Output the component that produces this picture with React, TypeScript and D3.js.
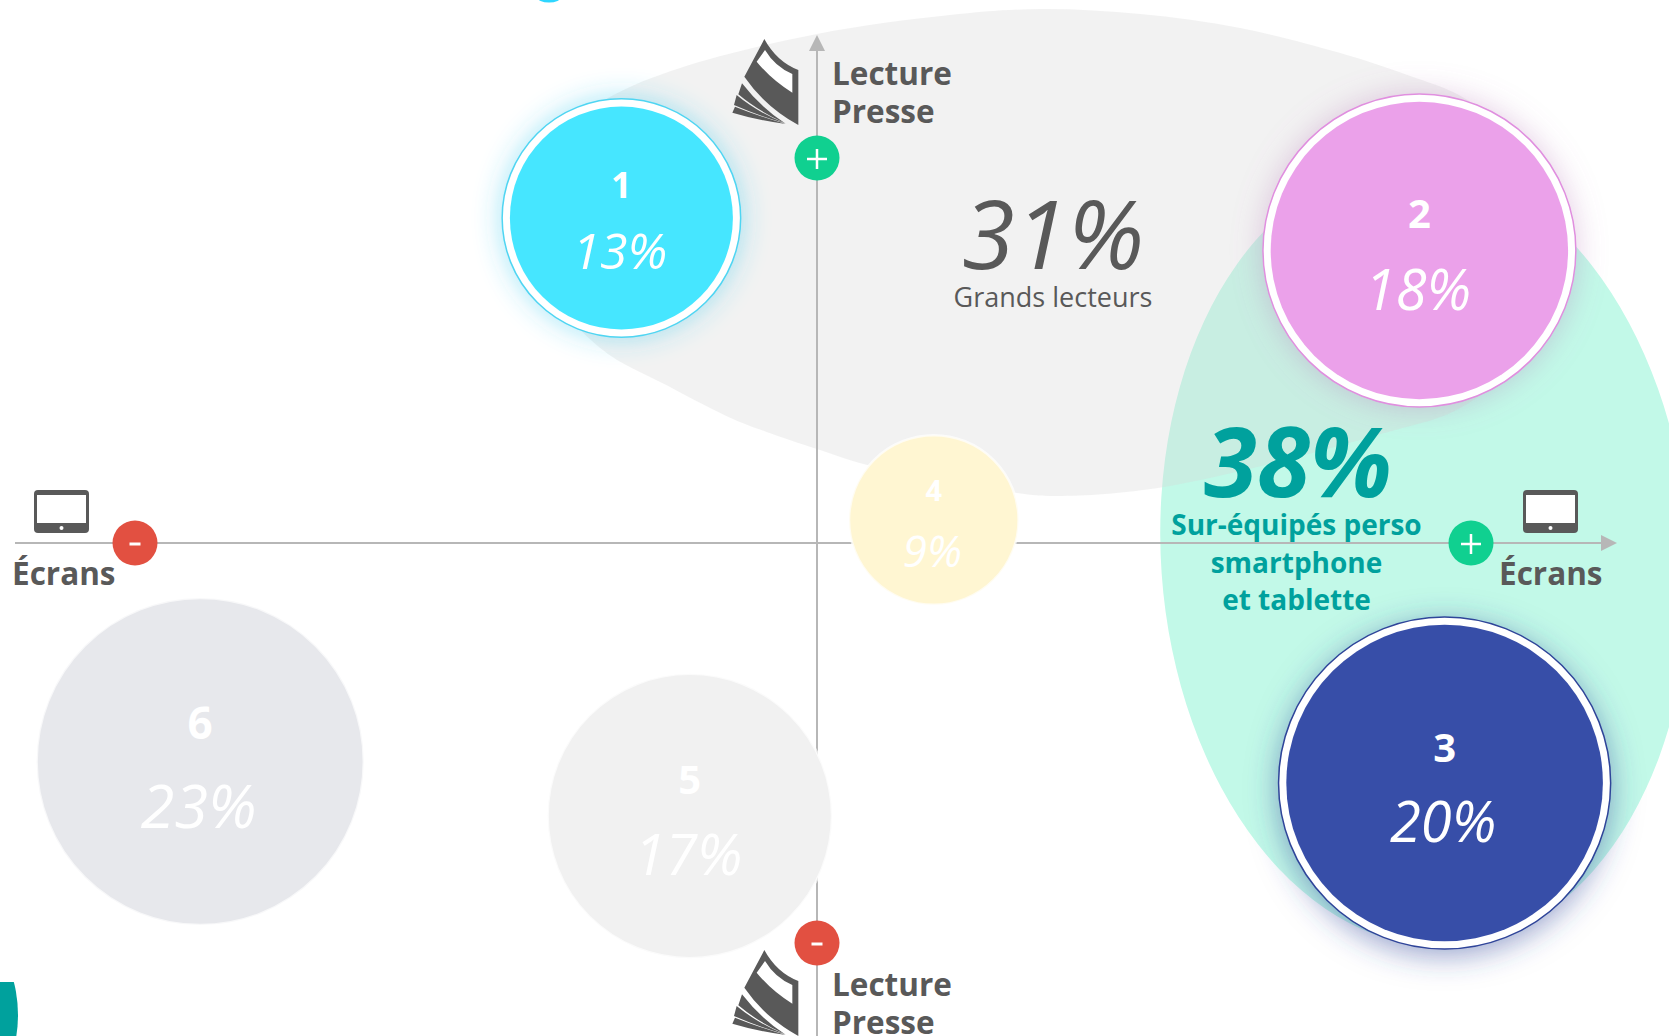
import React from "react";
import * as d3 from "d3";

const width = 1669;
const height = 1036;

// segments (axes run -100..100, size is an index)
const segmentIds = ["1", "2", "3", "4", "5", "6"];
const segmentShares = ["13%", "18%", "20%", "9%", "17%", "23%"];
const ecransScores = [-24.45, 75.3, 78.45, 14.6, -15.9, -77.1];
const lectureScores = [65, 58.5, -48, 4.6, -54.6, -43.7];
const segmentSizes = [60, 78.6, 83.4, 42.4, 71.1, 81.8];

// outline of the "grands lecteurs" group, in the same axis units
const lecteursOutlineX = [27.9, 40.4, 52.9, 65.4, 73.8, 81.3, 90.4, 93.5, 89.1, 80.4, 71.4, 43.4, 30, 25, 6.3, 0, -6.3, -10.5, -18.6, -27.1, -35.9, -37.8, -33.4, -25.9, -17.1, 0, 16.6];
const lecteursOutlineY = [106.8, 105.8, 103, 98, 93.6, 88.6, 74.6, 56.6, 38.6, 27, 22.2, 11.2, 9.4, 10, 15.6, 18.8, 22.2, 24.8, 31.4, 39, 55.5, 66.6, 80.6, 89.2, 95, 101.8, 105.6];

const fills = ["#46e6ff", "#eba1ea", "#374ea8", "#fff6d2", "#f1f1f1", "#e7e8ec"];
const rings = ["#4fd5f2", "#e08fdf", "#2f4499", null, null, null];
const glows = ["glowCyan", "glowPink", "glowBlue", null, null, null];
const idFonts = [36, 40, 40, 29, 40, 44];
const shareFonts = [50, 56, 56, 44, 57, 61];
const idOffsets = [-20, -23, -21, -19, -22, -23];
const shareOffsets = [51, 59, 59, 47, 59, 66];

const x = d3.scaleLinear().domain([-100, 100]).range([17, 1617]);
const y = d3.scaleLinear().domain([-100, 100]).range([1043, 43]);
const r = d3.scaleLinear().domain([0, 100]).range([0, 200]);

const axisColor = "#b7b7b7";
const ink = "#595959";
const teal = "#00a19d";
const font = "'Open Sans', 'Noto Sans', sans-serif";

const bookBody = "M253 117 Q290 185 355 210 L355 375 Q255 320 193 230 Z";
const bookWindow = "M255 150 L230 185 Q275 240 337 278 L337 222 Q285 200 255 150 Z";
const bookLeaves = [
  "M186 250 Q240 320 315 370 Q230 330 175 283 Z",
  "M170 285 Q230 335 315 370 Q230 345 162 315 Z",
  "M165 320 Q240 350 318 372 Q230 360 157 338 Z",
];

function Book({ dy }: { dy: number }) {
  return (
    <g transform={`translate(680,${dy}) scale(${1 / 3})`}>
      <path d={bookBody} fill={ink} />
      <path d={bookWindow} fill="#fff" />
      {bookLeaves.map((d, i) => (
        <path key={i} d={d} fill={ink} />
      ))}
    </g>
  );
}

function Tablet({ px, py }: { px: number; py: number }) {
  return (
    <g transform={`translate(${px},${py})`}>
      <rect width={55} height={43} rx={4} fill={ink} />
      <rect x={3} y={5} width={49} height={28} fill="#fff" />
      <circle cx={27.5} cy={38} r={2} fill="#fff" />
    </g>
  );
}

function Badge({ cx, cy, sign }: { cx: number; cy: number; sign: "+" | "-" }) {
  const plus = sign === "+";
  return (
    <g>
      <circle cx={cx} cy={cy} r={22.5} fill={plus ? "#10d090" : "#e25041"} />
      {plus ? (
        <path d={`M${cx - 10} ${cy + 1}H${cx + 10}M${cx} ${cy - 9}V${cy + 11}`} stroke="#fff" strokeWidth={2.5} />
      ) : (
        <path d={`M${cx - 5.5} ${cy + 1}H${cx + 5.5}`} stroke="#fff" strokeWidth={3} />
      )}
    </g>
  );
}

function Glow({ id, color, dy, blur, alpha }: { id: string; color: string; dy: number; blur: number; alpha: number }) {
  return (
    <filter id={id} x="-30%" y="-30%" width="160%" height="160%">
      <feDropShadow dx={0} dy={dy} stdDeviation={blur} floodColor={color} floodOpacity={alpha} />
    </filter>
  );
}

export default function App() {
  const cx0 = x(0);
  const cy0 = y(0);
  const axisLine = d3.line();
  const blob = d3
    .line<number>()
    .x((d) => x(d))
    .y((_, i) => y(lecteursOutlineY[i]))
    .curve(d3.curveCatmullRomClosed.alpha(0.5));

  return (
    <svg
      width={width}
      height={height}
      viewBox={`0 0 ${width} ${height}`}
      style={{ position: "absolute", left: 0, top: 0, display: "block", background: "#fff" }}
      fontFamily={font}
    >
      <defs>
        <Glow id="glowCyan" color="#31c8ee" dy={0} blur={14} alpha={0.45} />
        <Glow id="glowPink" color="#b070b0" dy={0} blur={15} alpha={0.35} />
        <Glow id="glowBlue" color="#2f4499" dy={6} blur={15} alpha={0.5} />
        <clipPath id="tabClip">
          <rect x={0} y={982} width={40} height={54} />
        </clipPath>
      </defs>

      {/* cropped bits of the slide at the edges */}
      <ellipse cx={549} cy={-3} rx={12} ry={5.5} fill="#2fd6ff" />
      <ellipse cx={-90} cy={1015} rx={108} ry={120} fill={teal} clipPath="url(#tabClip)" />

      {/* the two groupings */}
      <ellipse cx={1425} cy={555} rx={264} ry={392} fill="#c2f9e8" transform="rotate(-4 1425 555)" />
      <path d={blob(lecteursOutlineX) ?? ""} fill="#d5d5d5" fillOpacity={0.31} />

      {/* axes */}
      <path d={axisLine([[15, cy0], [1605, cy0]]) ?? ""} stroke={axisColor} strokeWidth={2} fill="none" />
      <path d={`M1601 ${cy0 - 8}L1617 ${cy0}L1601 ${cy0 + 8}Z`} fill={axisColor} />
      <path d={axisLine([[cx0, 48], [cx0, height]]) ?? ""} stroke={axisColor} strokeWidth={2} fill="none" />
      <path d={`M${cx0 - 8} 51L${cx0} 35L${cx0 + 8} 51Z`} fill={axisColor} />

      <Book dy={0} />
      <Book dy={911} />
      {[0, 911].map((dy) => (
        <text key={dy} fontSize={31.5} fontWeight={700} fill={ink} x={832}>
          <tspan x={832} y={85 + dy}>Lecture</tspan>
          <tspan x={832} y={123 + dy}>Presse</tspan>
        </text>
      ))}

      <Tablet px={34} py={490} />
      <Tablet px={1523} py={490} />
      <text x={12} y={585} fontSize={31.5} fontWeight={700} fill={ink}>Écrans</text>
      <text x={1499} y={585} fontSize={31.5} fontWeight={700} fill={ink}>Écrans</text>

      {/* group labels */}
      <text x={1053} y={269} textAnchor="middle" fontSize={96} fontWeight={400} fontStyle="italic" fill={ink}>31%</text>
      <text x={1053} y={307} textAnchor="middle" fontSize={27} fill={ink}>Grands lecteurs</text>
      <text x={1298} y={497} textAnchor="middle" fontSize={96} fontWeight={700} fontStyle="italic" fill={teal}>38%</text>
      <g textAnchor="middle" fontSize={28} fontWeight={700} fill={teal}>
        <text x={1296.5} y={535}>Sur-équipés perso</text>
        <text x={1296.5} y={573}>smartphone</text>
        <text x={1296.5} y={610}>et tablette</text>
      </g>

      {/* segments */}
      {segmentIds.map((id, i) => {
        const cx = x(ecransScores[i]);
        const cy = y(lectureScores[i]);
        const rad = r(segmentSizes[i]);
        const ring = rings[i];
        return (
          <g key={id}>
            {ring ? (
              <>
                <circle cx={cx} cy={cy} r={rad - 0.75} fill="#fff" stroke={ring} strokeWidth={1.5} filter={`url(#${glows[i]})`} />
                <circle cx={cx} cy={cy} r={rad - 8.5} fill={fills[i]} />
              </>
            ) : (
              <circle cx={cx} cy={cy} r={rad} fill={fills[i]} stroke="#fff" strokeOpacity={0.7} strokeWidth={2.5} />
            )}
            <text x={cx} y={cy + idOffsets[i]} textAnchor="middle" fontSize={idFonts[i]} fontWeight={700} fill="#fff">{id}</text>
            <text x={cx - 1.5} y={cy + shareOffsets[i]} textAnchor="middle" fontSize={shareFonts[i]} fontWeight={400} fontStyle="italic" fill="#fff">{segmentShares[i]}</text>
          </g>
        );
      })}

      <Badge cx={cx0} cy={158} sign="+" />
      <Badge cx={cx0} cy={943} sign="-" />
      <Badge cx={135} cy={cy0} sign="-" />
      <Badge cx={1471} cy={cy0} sign="+" />
    </svg>
  );
}
